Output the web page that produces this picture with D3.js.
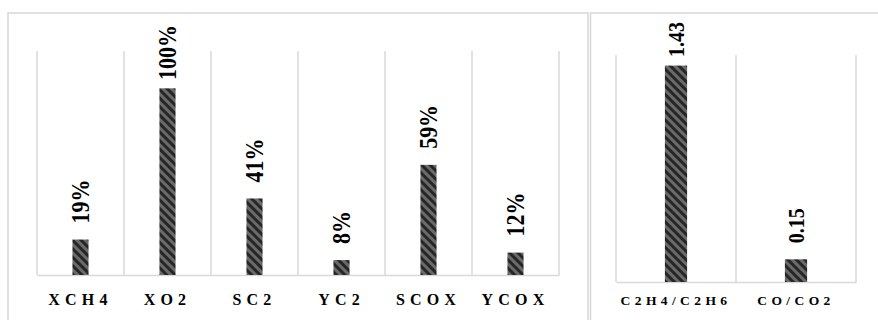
<!DOCTYPE html>
<html>
<head>
<meta charset="utf-8">
<script src="https://cdn.jsdelivr.net/npm/d3@7"></script>
<style>
  html, body { margin: 0; padding: 0; background: #fff; }
  svg { display: block; }
  .val { font-family: "Liberation Serif", "Times New Roman", serif; font-weight: bold; fill: #000; }
  .cat text { font-family: "Liberation Serif", "Times New Roman", serif; font-weight: bold; fill: #000; }
</style>
</head>
<body>
<svg id="chart" width="878" height="320"></svg>
<script>
// Conversion / selectivity / yield (left panel)
const perfCategories = ["XCH4", "XO2", "SC2", "YC2", "SCOX", "YCOX"];
const perfValues = [0.19, 1.00, 0.41, 0.08, 0.59, 0.12];

// Product ratios (right panel)
const ratioCategories = ["C2H4/C2H6", "CO/CO2"];
const ratioValues = [1.43, 0.15];

const svg = d3.select("#chart");
const grid = "#d9d9d9";

// diagonal hatch used for every bar
const defs = svg.append("defs");
const pat = defs.append("pattern")
  .attr("id", "hatch")
  .attr("patternUnits", "userSpaceOnUse")
  .attr("width", 6).attr("height", 6)
  .attr("patternTransform", "rotate(-45)");
pat.append("rect").attr("width", 6).attr("height", 6).attr("fill", "#6a6a6a");
pat.append("rect").attr("width", 3).attr("height", 6).attr("fill", "#262626");

// panel frames
svg.append("rect").attr("x", 8).attr("y", 13).attr("width", 580).attr("height", 330)
  .attr("fill", "none").attr("stroke", grid).attr("stroke-width", 1.6);
svg.append("rect").attr("x", 590.5).attr("y", 13).attr("width", 300).attr("height", 330)
  .attr("fill", "none").attr("stroke", grid).attr("stroke-width", 1.6);

function panel(cfg) {
  const x = d3.scaleBand().domain(cfg.cats).range([cfg.x0, cfg.x1]);
  const y = d3.scaleLinear().domain([0, cfg.max]).range([cfg.base, cfg.top]);
  const g = svg.append("g");

  // vertical gridlines at category boundaries
  const bounds = cfg.cats.map(c => x(c)).concat([cfg.x1]);
  g.selectAll("line.grid").data(bounds).join("line")
    .attr("class", "grid")
    .attr("x1", d => d).attr("x2", d => d)
    .attr("y1", y(cfg.max)).attr("y2", y(0))
    .attr("stroke", grid).attr("stroke-width", 1.5);

  // category axis
  const ax = g.append("g").attr("class", "cat")
    .attr("transform", `translate(0,${y(0)})`)
    .call(d3.axisBottom(x).tickSize(0).tickPadding(0));
  ax.select(".domain").attr("stroke", grid).attr("stroke-width", 1.5);
  ax.selectAll("text")
    .attr("y", cfg.labelY).attr("dy", 0)
    .style("font-size", cfg.catSize + "px")
    .style("letter-spacing", cfg.spacing + "px");

  const bw = x.step() * 0.185;
  const data = cfg.cats.map((c, i) => ({ c, v: cfg.vals[i] }));

  g.selectAll("rect.bar").data(data).join("rect")
    .attr("class", "bar")
    .attr("x", d => x(d.c) + x.step() / 2 - bw / 2)
    .attr("width", bw)
    .attr("y", d => y(d.v))
    .attr("height", d => y(0) - y(d.v))
    .attr("fill", "url(#hatch)");

  // rotated value labels above each bar, kept inside the chart area
  g.selectAll("text.val").data(data).join("text")
    .attr("class", "val")
    .style("font-size", cfg.valSize + "px")
    .text(d => cfg.fmt(d.v))
    .each(function (d) {
      const len = this.getComputedTextLength();
      let start = y(d.v) - 16;
      if (start - len < cfg.labelTop) start = cfg.labelTop + len;
      const cx = x(d.c) + x.step() / 2;
      d3.select(this)
        .attr("transform", `translate(${cx},${start}) rotate(-90) scale(1,1.12)`)
        .attr("dy", "0.34em");
    });
}

panel({
  cats: perfCategories, vals: perfValues, max: 1.2,
  x0: 37, x1: 559, base: 275, top: 51,
  fmt: d3.format(".0%"), valSize: 22, catSize: 16, spacing: 5.2,
  labelY: 30, labelTop: 25
});

panel({
  cats: ratioCategories, vals: ratioValues, max: 1.5,
  x0: 616, x1: 856, base: 282, top: 55,
  fmt: d3.format(".2f"), valSize: 20, catSize: 13.5, spacing: 4.4,
  labelY: 23, labelTop: 22
});
</script>
</body>
</html>
